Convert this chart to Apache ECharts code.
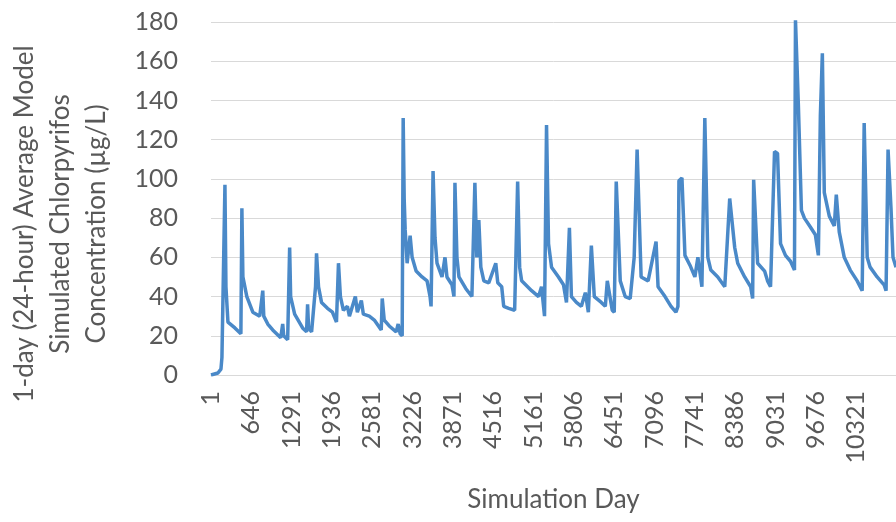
<!DOCTYPE html>
<html>
<head>
<meta charset="utf-8">
<script src="https://cdn.jsdelivr.net/npm/echarts@6/dist/echarts.min.js"></script>
<style>
html,body{margin:0;padding:0;background:#fff;}
#chart{width:896px;height:522px;}
</style>
</head>
<body>
<div id="chart"></div>
<script>
// Simulation days (x)
const days = [
  1, 112, 160, 176, 192, 224, 240, 272, 383, 479, 495, 511, 574, 670, 781, 829, 845, 909, 988,
  1116, 1148, 1164, 1227, 1259, 1275, 1339, 1466, 1530, 1546, 1562, 1610, 1673, 1689, 1721, 1769,
  1864, 1944, 2008, 2040, 2071, 2119, 2183, 2215, 2310, 2342, 2406, 2438, 2533, 2613, 2724, 2740,
  2772, 2852, 2963, 2995, 3027, 3059, 3075, 3091, 3107, 3138, 3186, 3218, 3282, 3377, 3457, 3505,
  3521, 3553, 3584, 3616, 3696, 3744, 3775, 3855, 3887, 3903, 3935, 3967, 4078, 4174, 4222, 4253,
  4285, 4317, 4365, 4444, 4556, 4588, 4651, 4683, 4763, 4858, 4906, 4938, 4970, 5129, 5241, 5288,
  5336, 5368, 5400, 5448, 5559, 5639, 5687, 5734, 5766, 5846, 5925, 5989, 6037, 6085, 6132, 6244,
  6308, 6340, 6419, 6451, 6483, 6547, 6626, 6706, 6770, 6817, 6881, 6993, 7120, 7152, 7263, 7359,
  7438, 7470, 7486, 7534, 7582, 7662, 7741, 7789, 7853, 7900, 7948, 7996, 8107, 8219, 8298, 8378,
  8426, 8537, 8633, 8665, 8681, 8744, 8856, 8903, 8951, 9015, 9063, 9111, 9190, 9270, 9334, 9350,
  9397, 9445, 9493, 9588, 9668, 9716, 9748, 9780, 9811, 9891, 9971, 10003, 10050, 10130, 10226,
  10337, 10417, 10449, 10497, 10544, 10656, 10767, 10799, 10831, 10878, 10910, 10958
];
// 1-day average concentration (µg/L)
const conc = [
  0, 1, 3, 9, 10, 97, 45, 27, 24, 21, 85, 50, 40, 32, 30, 43, 30, 26, 23,
  19, 26, 20, 18, 65, 40, 31, 24, 22, 36, 24, 22, 45, 62, 45, 37,
  34, 32, 27, 57, 40, 33, 35, 30, 40, 32, 38, 31, 30, 28, 23, 39,
  28, 25, 22, 26, 21, 20, 131, 90, 74, 57, 71, 60, 53, 50, 48, 40,
  35, 104, 70, 57, 50, 60, 50, 46, 40, 98, 60, 50, 44, 40, 98, 60,
  79, 55, 48, 47, 57, 47, 45, 35, 34, 33, 98.6, 55, 48, 43, 40, 45,
  30, 127.5, 67, 55, 50, 46, 37, 75, 40, 37, 35, 42, 32, 66, 40, 37,
  35, 48, 33, 32, 98.6, 48, 40, 39, 60, 115, 50, 48, 68, 45, 40, 35,
  32, 35, 99, 100.5, 61, 56, 50, 60, 45, 131, 60, 53.5, 50, 45, 90, 65,
  57, 50, 45, 39, 99.5, 57, 53, 48, 45, 114, 113, 67, 61, 58, 53.5, 181,
  137, 84, 80, 75.5, 71.5, 61, 132, 164, 93, 81, 76, 92, 73, 60, 53.5,
  48, 43, 128.5, 60, 55, 50, 46, 43, 115, 85, 60, 55
];
// Axis tick labels
const dayTicks = [1, 646, 1291, 1936, 2581, 3226, 3871, 4516, 5161, 5806, 6451, 7096, 7741, 8386, 9031, 9676, 10321];
const yTicks = [0, 20, 40, 60, 80, 100, 120, 140, 160, 180];
const xTitle = 'Simulation Day';
const yTitle = '1-day (24-hour) Average Model\nSimulated Chlorpyrifos\nConcentration (µg/L)';

const chart = echarts.init(document.getElementById('chart'), null, {renderer: 'canvas'});
const font = 'Lato';
const txt = '#595959';
chart.setOption({
  animation: false,
  backgroundColor: '#ffffff',
  grid: {left: 211, right: -3, top: 22, bottom: 147, containLabel: false},
  xAxis: {
    type: 'value',
    min: 1,
    max: 10958,
    name: xTitle,
    nameLocation: 'middle',
    nameGap: 112,
    nameTextStyle: {fontFamily: font, fontSize: 26, color: txt},
    axisLine: {show: true, lineStyle: {color: '#d9d9d9', width: 1}},
    axisTick: {show: false, customValues: dayTicks},
    splitLine: {show: false},
    axisLabel: {
      customValues: dayTicks,
      formatter: v => String(v),
      rotate: 90,
      margin: 16,
      fontFamily: font,
      fontSize: 25,
      color: txt
    }
  },
  yAxis: {
    type: 'value',
    min: yTicks[0],
    max: yTicks[yTicks.length - 1],
    interval: 20,
    axisLine: {show: false},
    axisTick: {show: false},
    splitLine: {lineStyle: {color: '#d9d9d9', width: 1}},
    axisLabel: {margin: 33, fontFamily: font, fontSize: 25, color: txt}
  },
  graphic: [{
    type: 'text',
    x: 61,
    y: 224,
    rotation: Math.PI / 2,
    style: {
      text: yTitle,
      font: '26px Lato',
      fill: txt,
      align: 'center',
      verticalAlign: 'middle',
      lineHeight: 36
    }
  }],
  series: [{
    type: 'line',
    data: days.map((d, i) => [d, conc[i]]),
    showSymbol: false,
    lineStyle: {color: '#4a89c8', width: 3.5},
    itemStyle: {color: '#4a89c8'}
  }]
});
</script>
</body>
</html>
